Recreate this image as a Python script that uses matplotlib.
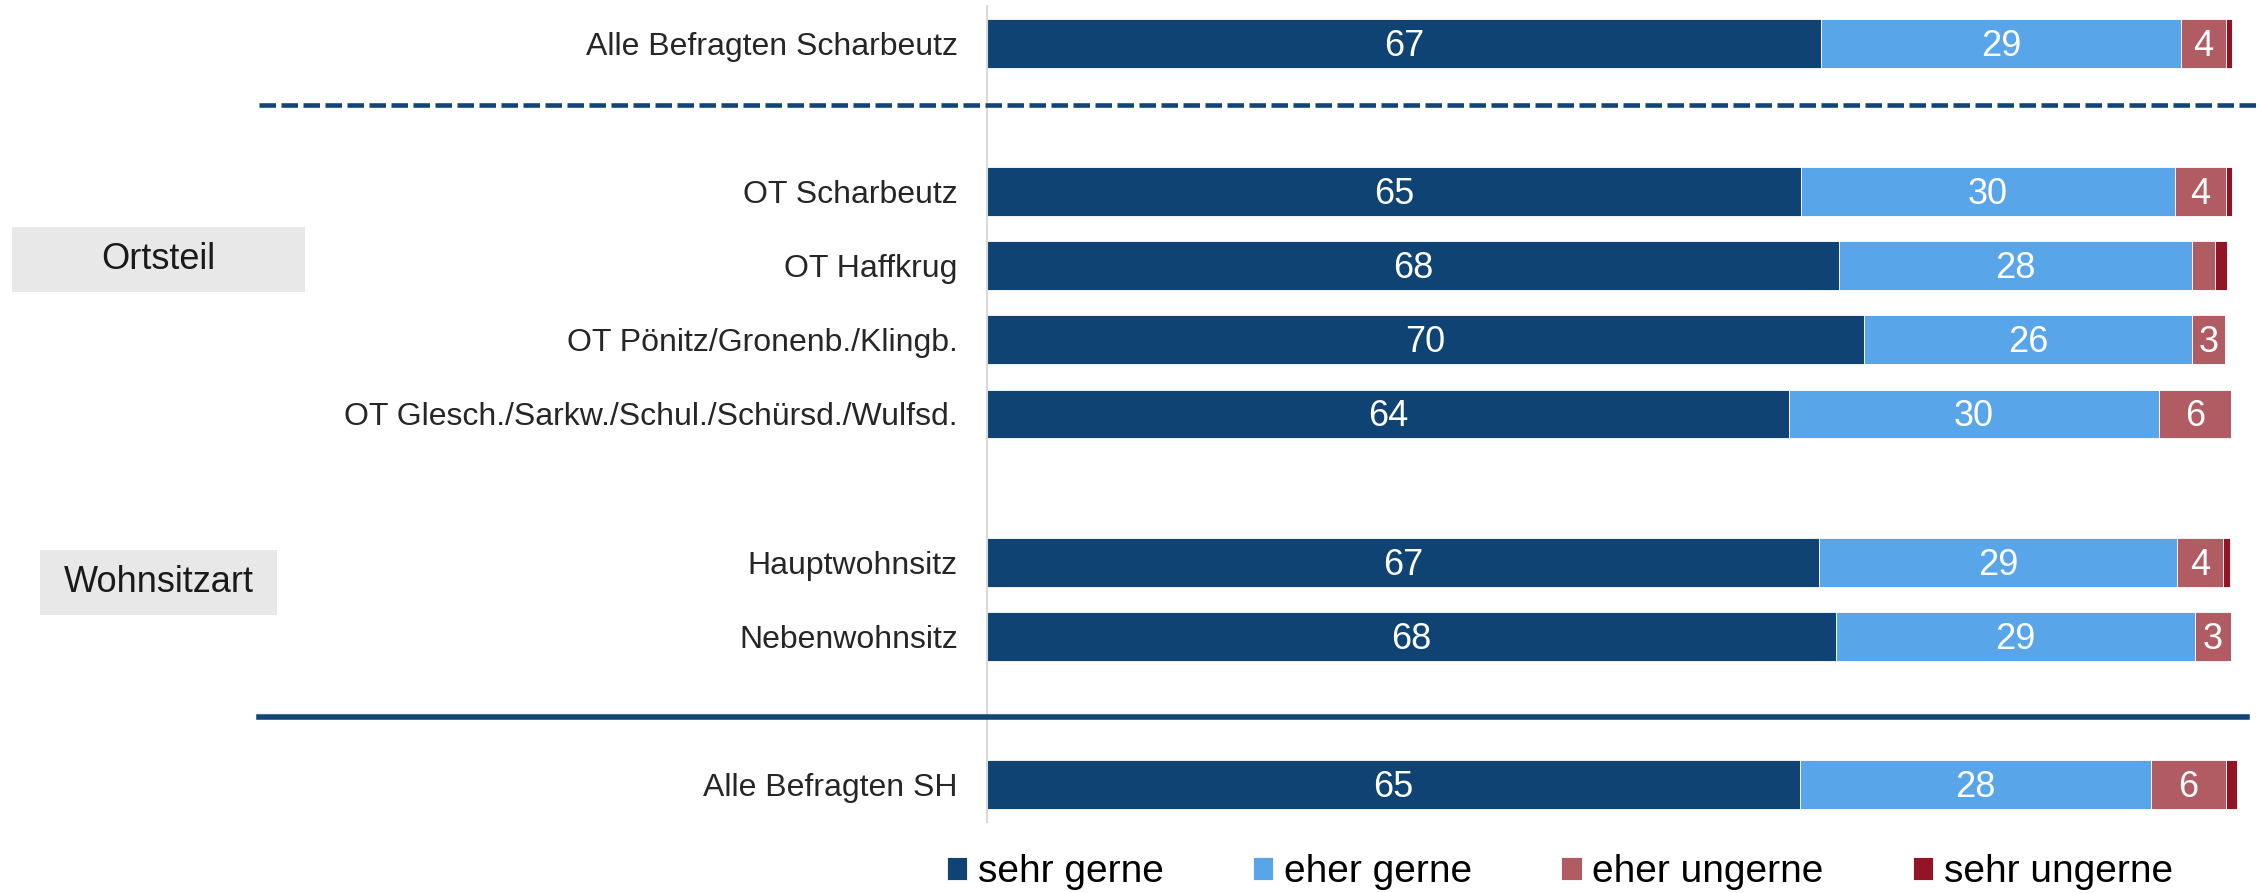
import matplotlib.pyplot as plt
import matplotlib
from matplotlib.patches import Rectangle
from matplotlib.lines import Line2D

matplotlib.rcParams['font.family'] = ['Liberation Sans', 'DejaVu Sans']

categories = ["Alle Befragten Scharbeutz", "", "OT Scharbeutz", "OT Haffkrug",
              "OT Pönitz/Gronenb./Klingb.", "OT Glesch./Sarkw./Schul./Schürsd./Wulfsd.", "",
              "Hauptwohnsitz", "Nebenwohnsitz", "", "Alle Befragten SH"]

sehr_gerne = [67.0, 0, 65.4, 68.4, 70.4, 64.4, 0, 66.8, 68.2, 0, 65.3]
eher_gerne = [28.9, 0, 30.0, 28.4, 26.4, 29.7, 0, 28.8, 28.8, 0, 28.2]
eher_ungerne = [3.6, 0, 4.1, 1.8, 2.6, 5.8, 0, 3.7, 2.9, 0, 6.0]
sehr_ungerne = [0.5, 0, 0.5, 1.0, 0, 0, 0, 0.5, 0, 0, 0.9]

series = [("sehr gerne", sehr_gerne, '#0e4374'),
          ("eher gerne", eher_gerne, '#58a6e9'),
          ("eher ungerne", eher_ungerne, '#b15b63'),
          ("sehr ungerne", sehr_ungerne, '#921525')]

W, H = 2257, 893
fig = plt.figure(figsize=(W / 100, H / 100), dpi=100)
ax = fig.add_axes([987 / W, (H - 822) / H, (W - 987) / W, (822 - 6) / H])

y_pos = list(range(len(categories)))
left = [0.0] * len(categories)
for name, vals, color in series:
    ax.barh(y_pos, vals, 0.66, left=left, color=color, edgecolor='white', linewidth=0.6, label=name)
    for i, v in enumerate(vals):
        if v >= 2.5:
            ax.text(left[i] + v / 2, i + 0.04, str(int(round(v))), ha='center', va='center',
                    color='white', fontsize=26)
    left = [l + v for l, v in zip(left, vals)]

ax.set_xlim(0, 102)
ax.set_ylim(10.5, -0.5)
ax.set_yticks(y_pos)
ax.set_yticklabels(categories, fontsize=23, color='#262626')
ax.tick_params(axis='y', length=0, pad=21)
ax.set_xticks([])
for s in ['top', 'right', 'bottom']:
    ax.spines[s].set_visible(False)
ax.spines['left'].set_color('#d9d9d9')
ax.spines['left'].set_linewidth(1.5)

# separators
fig.add_artist(Line2D([259 / W, 1.0], [1 - 105 / H] * 2, color='#124576', linewidth=3.3,
                      linestyle=(0, (3.6, 1.2))))
fig.add_artist(Line2D([259 / W, 2247 / W], [1 - 717 / H] * 2, color='#124576', linewidth=4))

# group boxes
for label, x0, x1, y0, y1 in [("Ortsteil", 12, 305, 227, 292), ("Wohnsitzart", 40, 277, 550, 615)]:
    fig.add_artist(Rectangle((x0 / W, 1 - y1 / H), (x1 - x0) / W, (y1 - y0) / H,
                             transform=fig.transFigure, color='#e8e8e8', linewidth=0))
    fig.text((x0 + x1) / 2 / W, 1 - (y0 + y1) / 2 / H, label, ha='center', va='center',
             fontsize=26, color='#1a1a1a')

handles, labels = ax.get_legend_handles_labels()
fig.legend(handles, labels, loc='center', bbox_to_anchor=(1560 / W, 21 / H), ncol=4,
           frameon=False, fontsize=28, handlelength=0.52, handleheight=0.52,
           handletextpad=0.27, columnspacing=2.3, borderaxespad=0, borderpad=0)

plt.savefig('out.png', dpi=100)
